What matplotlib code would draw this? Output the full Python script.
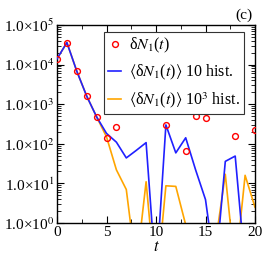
import numpy as np
import matplotlib
matplotlib.use("Agg")
import matplotlib.pyplot as plt
from matplotlib.ticker import FuncFormatter, LogLocator, NullFormatter, MultipleLocator

plt.rcParams['font.family'] = ['Liberation Serif', 'DejaVu Serif']
plt.rcParams['mathtext.fontset'] = 'stix'

# exact single history (only nonzero points shown)
t_exact = [0, 1, 2, 3, 4, 5, 6, 11, 13, 14, 15, 18, 20]
dN_exact = [1.4e4, 3.6e4, 6.8e3, 1.6e3, 480, 139, 262, 300, 64, 505, 460, 158, 219]

# averages
t_avg = list(range(0, 21))
dN_10 = [1.4e4, 3.6e4, 6.8e3, 1.6e3, 480, 183, 110, 44, 68, 107, 0.04,
         300, 59, 142, 22, 3.9, 0.06, 36, 49, 0.08, 0.05]
dN_1000 = [1.4e4, 3.6e4, 6.8e3, 1.6e3, 480, 150, 22, 7.0, 0.07, 11, 0.02,
           8.7, 8.4, 0.9, 0.01, 0.01, 0.3, 17, 0.06, 16, 2.5]

labels = [r'δ$N_1$($t$)',
          r'$\langle$δ$N_1$($t$)$\rangle$ 10 hist.',
          r'$\langle$δ$N_1$($t$)$\rangle$ 10$^3$ hist.']

fig = plt.figure(figsize=(2.66, 2.66), dpi=100)
ax = fig.add_axes([57/266, 1-223/266, 198/266, 198/266])

ax.plot(t_exact, dN_exact, linestyle='none', marker='o', markersize=4.2,
        markerfacecolor='none', markeredgecolor='#ff0000', markeredgewidth=1.0,
        label=labels[0], zorder=4)
ax.plot(t_avg, dN_10, color='#2020ff', lw=1.2, label=labels[1], zorder=3)
ax.plot(t_avg, dN_1000, color='#ffa500', lw=1.2, label=labels[2], zorder=2)

ax.set_yscale('log')
ax.set_xlim(0, 20)
ax.set_ylim(1, 1e5)

ax.xaxis.set_major_locator(MultipleLocator(5))
ax.xaxis.set_minor_locator(MultipleLocator(2.5))
ax.yaxis.set_major_locator(LogLocator(base=10, numticks=10))
ax.yaxis.set_minor_locator(LogLocator(base=10, subs=np.arange(2, 10), numticks=20))
ax.yaxis.set_minor_formatter(NullFormatter())

def yfmt(v, pos):
    e = int(round(np.log10(v)))
    return '1.0×10$^{%d}$' % e
ax.yaxis.set_major_formatter(FuncFormatter(yfmt))
ax.xaxis.set_major_formatter(FuncFormatter(lambda v, p: '%d' % v))

ax.tick_params(which='both', direction='in', top=True, right=True, labelsize=11, pad=2)
ax.tick_params(which='major', length=5, width=0.8)
ax.tick_params(which='minor', length=3, width=0.6)
for s in ax.spines.values():
    s.set_linewidth(1.0)

ax.set_xlabel('$t$', fontsize=12, labelpad=0)

leg = ax.legend(loc='upper right', bbox_to_anchor=(0.944, 0.965), fontsize=11.5,
                frameon=True, fancybox=False, edgecolor='#333333', framealpha=1,
                handlelength=0.8, handletextpad=0.5, borderpad=0.25,
                labelspacing=0.5, borderaxespad=0)
leg.get_frame().set_linewidth(0.8)

fig.text(253/266, 1-15/266, '(c)', ha='right', va='center', fontsize=11)

fig.savefig('out.png', dpi=100)
